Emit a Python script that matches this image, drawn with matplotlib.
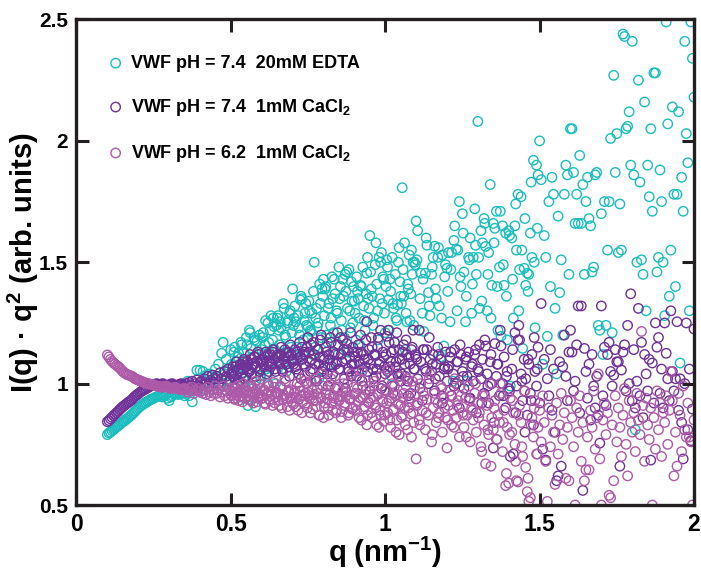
import matplotlib
matplotlib.use('Agg')
import matplotlib.pyplot as plt

# fonts: bold Arial-like everywhere, mathtext in the same face
plt.rcParams['font.family'] = ['Liberation Sans', 'DejaVu Sans']
plt.rcParams['font.weight'] = 'bold'
plt.rcParams['axes.labelweight'] = 'bold'
plt.rcParams['mathtext.fontset'] = 'custom'
plt.rcParams['mathtext.rm'] = 'Liberation Sans:bold'
plt.rcParams['mathtext.it'] = 'Liberation Sans:bold'
plt.rcParams['mathtext.bf'] = 'Liberation Sans:bold'

# q grid (nm^-1), shared by the three samples
q = [
    0.100, 0.105, 0.110, 0.115, 0.120, 0.125, 0.130, 0.135, 0.140, 0.145,
    0.150, 0.155, 0.160, 0.165, 0.170, 0.175, 0.180, 0.185, 0.190, 0.195,
    0.200, 0.205, 0.210, 0.215, 0.220, 0.225, 0.230, 0.235, 0.240, 0.245,
    0.250, 0.255, 0.260, 0.265, 0.270, 0.275, 0.280, 0.285, 0.290, 0.295,
    0.300, 0.305, 0.310, 0.315, 0.320, 0.325, 0.330, 0.335, 0.340, 0.345,
    0.350,
    0.355, 0.36, 0.365, 0.37, 0.375, 0.38, 0.385, 0.39, 0.395, 0.40,
    0.405, 0.41, 0.415, 0.42, 0.425, 0.43, 0.435, 0.44, 0.445, 0.45,
    0.455, 0.46, 0.465, 0.47, 0.475, 0.48, 0.485, 0.49, 0.495, 0.50,
    0.505, 0.51, 0.515, 0.52, 0.525, 0.53, 0.535, 0.54, 0.545, 0.55,
    0.555, 0.56, 0.565, 0.57, 0.575, 0.58, 0.585, 0.59, 0.595, 0.60,
    0.605, 0.61, 0.615, 0.62, 0.625, 0.63, 0.635, 0.64, 0.645, 0.65,
    0.655, 0.66, 0.665, 0.67, 0.675, 0.68, 0.685, 0.69, 0.695, 0.70,
    0.705, 0.71, 0.715, 0.72, 0.725, 0.73, 0.735, 0.74, 0.745, 0.75,
    0.755, 0.76, 0.765, 0.77, 0.775, 0.78, 0.785, 0.79, 0.795, 0.80,
    0.805, 0.81, 0.815, 0.82, 0.825, 0.83, 0.835, 0.84, 0.845, 0.85,
    0.855, 0.86, 0.865, 0.87, 0.875, 0.88, 0.885, 0.89, 0.895, 0.90,
    0.905, 0.91, 0.915, 0.92, 0.925, 0.93, 0.935, 0.94, 0.945, 0.95,
    0.955, 0.96, 0.965, 0.97, 0.975, 0.98, 0.985, 0.99, 0.995, 1.00,
    1.005, 1.01, 1.015, 1.02, 1.025, 1.03, 1.035, 1.04, 1.045, 1.05,
    1.055, 1.06, 1.065, 1.07, 1.075, 1.08, 1.085, 1.09, 1.095, 1.10,
    1.105, 1.11, 1.115, 1.12, 1.125, 1.13, 1.135, 1.14, 1.145, 1.15,
    1.155, 1.16, 1.165, 1.17, 1.175, 1.18, 1.185, 1.19, 1.195, 1.20,
    1.205, 1.21, 1.215, 1.22, 1.225, 1.23, 1.235, 1.24, 1.245, 1.25,
    1.255, 1.26, 1.265, 1.27, 1.275, 1.28, 1.285, 1.29, 1.295, 1.30,
    1.305, 1.31, 1.315, 1.32, 1.325, 1.33, 1.335, 1.34, 1.345, 1.35,
    1.355, 1.36, 1.365, 1.37, 1.375, 1.38, 1.385, 1.39, 1.395, 1.40,
    1.405, 1.41, 1.415, 1.42, 1.425, 1.43, 1.435, 1.44, 1.445, 1.45,
    1.455, 1.46, 1.465, 1.47, 1.475, 1.48, 1.485, 1.49, 1.495, 1.50,
    1.505, 1.51, 1.515, 1.52, 1.525, 1.53, 1.535, 1.54, 1.545, 1.55,
    1.555, 1.56, 1.565, 1.57, 1.575, 1.58, 1.585, 1.59, 1.595, 1.60,
    1.605, 1.61, 1.615, 1.62, 1.625, 1.63, 1.635, 1.64, 1.645, 1.65,
    1.655, 1.66, 1.665, 1.67, 1.675, 1.68, 1.685, 1.69, 1.695, 1.70,
    1.705, 1.71, 1.715, 1.72, 1.725, 1.73, 1.735, 1.74, 1.745, 1.75,
    1.755, 1.76, 1.765, 1.77, 1.775, 1.78, 1.785, 1.79, 1.795, 1.80,
    1.805, 1.81, 1.815, 1.82, 1.825, 1.83, 1.835, 1.84, 1.845, 1.85,
    1.855, 1.86, 1.865, 1.87, 1.875, 1.88, 1.885, 1.89, 1.895, 1.90,
    1.905, 1.91, 1.915, 1.92, 1.925, 1.93, 1.935, 1.94, 1.945, 1.95,
    1.955, 1.96, 1.965, 1.97, 1.975, 1.98, 1.985, 1.99, 1.995, 2.00,
]

# in-between q points of the densely sampled middle range
q_mid = [
    0.5025, 0.5075, 0.5125, 0.5175, 0.5225, 0.5275, 0.5325, 0.5375, 0.5425, 0.5475,
    0.5525, 0.5575, 0.5625, 0.5675, 0.5725, 0.5775, 0.5825, 0.5875, 0.5925, 0.5975,
    0.6025, 0.6075, 0.6125, 0.6175, 0.6225, 0.6275, 0.6325, 0.6375, 0.6425, 0.6475,
    0.6525, 0.6575, 0.6625, 0.6675, 0.6725, 0.6775, 0.6825, 0.6875, 0.6925, 0.6975,
    0.7025, 0.7075, 0.7125, 0.7175, 0.7225, 0.7275, 0.7325, 0.7375, 0.7425, 0.7475,
    0.7525, 0.7575, 0.7625, 0.7675, 0.7725, 0.7775, 0.7825, 0.7875, 0.7925, 0.7975,
    0.8025, 0.8075, 0.8125, 0.8175, 0.8225, 0.8275, 0.8325, 0.8375, 0.8425, 0.8475,
    0.8525, 0.8575, 0.8625, 0.8675, 0.8725, 0.8775, 0.8825, 0.8875, 0.8925, 0.8975,
    0.9025, 0.9075, 0.9125, 0.9175, 0.9225, 0.9275, 0.9325, 0.9375, 0.9425, 0.9475,
    0.9525, 0.9575, 0.9625, 0.9675, 0.9725, 0.9775, 0.9825, 0.9875, 0.9925, 0.9975,
    1.0025, 1.0075, 1.0125, 1.0175, 1.0225, 1.0275, 1.0325, 1.0375, 1.0425, 1.0475,
    1.0525, 1.0575, 1.0625, 1.0675, 1.0725, 1.0775, 1.0825, 1.0875, 1.0925, 1.0975,
    1.1025, 1.1125, 1.1225, 1.1325, 1.1425, 1.1525, 1.1625, 1.1725, 1.1825, 1.1925,
    1.2025, 1.2125, 1.2225, 1.2325, 1.2425, 1.2525, 1.2625, 1.2725, 1.2825, 1.2925,
    1.3025, 1.3125, 1.3225, 1.3325, 1.3425, 1.3525, 1.3625, 1.3725, 1.3825, 1.3925,
    1.4025, 1.4125, 1.4225, 1.4325, 1.4425, 1.4525, 1.4625, 1.4725, 1.4825, 1.4925,
]

# I(q)*q^2, pH 7.4, 20mM EDTA
edta_74 = [
    0.79, 0.797, 0.80, 0.806, 0.81, 0.817, 0.822, 0.826, 0.832, 0.838,
    0.843, 0.846, 0.852, 0.857, 0.862, 0.868, 0.873, 0.88, 0.886, 0.893,
    0.90, 0.905, 0.91, 0.914, 0.92, 0.922, 0.927, 0.93, 0.935, 0.937,
    0.94, 0.943, 0.946, 0.948, 0.95, 0.947, 0.945, 0.952, 0.955, 0.94,
    0.93, 0.945, 0.95, 0.957, 0.96, 0.962, 0.955, 0.958, 0.965, 0.96,
    0.95,
    0.96, 1.01, 0.95, 0.975, 0.925, 0.97, 0.985, 1.055, 0.99, 1.055,
    0.98, 1.05, 1.00, 1.035, 0.99, 1.04, 1.01, 1.035, 0.975, 1.06,
    1.02, 1.08, 0.99, 1.125, 1.17, 1.04, 1.10, 1.00, 1.06, 1.14,
    1.05, 1.13, 0.98, 1.09, 1.125, 1.07, 1.16, 1.02, 1.10, 1.19,
    0.91, 1.22, 1.145, 1.08, 1.19, 0.905, 1.175, 1.12, 1.03, 1.14,
    1.21, 1.16, 1.06, 1.25, 1.13, 1.28, 1.18, 1.235, 1.00, 1.27,
    1.22, 1.255, 1.12, 1.33, 1.20, 1.05, 1.26, 1.29, 1.15, 1.39,
    1.27, 1.255, 1.10, 1.23, 1.345, 1.35, 1.18, 1.29, 1.24, 1.235,
    1.30, 1.215, 1.12, 1.50, 1.27, 1.235, 1.02, 1.33, 1.39, 1.43,
    1.39, 1.20, 1.31, 1.08, 1.27, 1.35, 1.43, 1.16, 1.29, 1.48,
    1.40, 1.22, 1.36, 1.45, 1.46, 1.13, 1.30, 1.42, 1.25, 1.34,
    1.18, 1.38, 1.27, 1.405, 1.06, 1.32, 1.22, 1.455, 1.35, 1.61,
    1.39, 1.24, 1.12, 1.58, 1.30, 1.52, 1.50, 1.33, 1.43, 1.21,
    1.51, 1.345, 1.43, 1.03, 1.33, 1.17, 1.27, 1.325, 1.56, 1.36,
    1.807, 1.36, 1.14, 1.255, 1.39, 1.26, 1.55, 1.50, 1.50, 1.67,
    1.63, 1.22, 1.455, 1.29, 1.215, 1.455, 1.57, 1.375, 1.28, 1.45,
    1.52, 1.566, 1.35, 1.52, 1.32, 1.11, 1.53, 1.155, 1.49, 1.475,
    1.54, 1.255, 1.54, 1.01, 1.65, 1.555, 1.55, 1.75, 1.40, 1.70,
    1.46, 1.255, 1.01, 1.52, 1.60, 1.29, 1.52, 1.72, 1.45, 2.08,
    1.31, 1.63, 1.58, 1.68, 1.565, 1.30, 1.54, 1.82, 1.405, 1.66,
    1.64, 1.71, 1.22, 1.48, 1.195, 1.65, 1.405, 1.62, 1.18, 1.63,
    0.99, 1.60, 1.27, 1.65, 1.55, 1.78, 1.47, 1.77, 1.145, 1.475,
    1.405, 1.455, 1.45, 1.62, 1.52, 1.92, 1.23, 1.90, 1.86, 2.00,
    1.84, 1.08, 1.61, 1.52, 1.195, 1.75, 1.40, 1.85, 1.78, 1.31,
    1.04, 1.69, 1.375, 1.51, 1.20, 1.78, 1.90, 1.86, 1.45, 2.05,
    2.05, 1.87, 1.66, 1.78, 1.66, 1.94, 1.66, 1.82, 1.45, 1.75,
    1.85, 1.68, 1.65, 1.46, 1.48, 1.86, 1.87, 1.24, 1.22, 1.70,
    1.12, 1.75, 1.24, 1.55, 1.75, 2.01, 1.21, 2.27, 1.87, 2.03,
    1.54, 1.74, 1.55, 2.44, 2.43, 2.05, 2.06, 2.12, 1.90, 2.41,
    1.86, 0.81, 1.50, 2.25, 1.83, 1.51, 1.45, 2.16, 1.30, 1.90,
    1.77, 2.05, 1.71, 2.28, 2.28, 1.46, 1.52, 1.88, 1.75, 1.50,
    1.28, 2.49, 2.07, 1.36, 1.55, 2.14, 1.78, 1.40, 1.78, 2.12,
    1.085, 1.85, 1.71, 2.41, 2.03, 1.91, 1.30, 2.49, 2.34, 2.18,
]
edta_74_mid = [
    1.08, 0.99, 1.15, 1.04, 1.11, 0.97, 1.17, 1.06, 1.13, 1.01,
    1.16, 1.05, 1.21, 1.10, 0.98, 1.18, 1.07, 1.13, 1.20, 1.02,
    1.19, 1.12, 1.26, 1.03, 1.17, 1.22, 1.09, 1.27, 1.14, 1.24,
    1.28, 1.16, 1.23, 1.08, 1.31, 1.19, 1.25, 1.13, 1.30, 1.21,
    1.24, 1.32, 1.15, 1.28, 1.20, 1.36, 1.12, 1.26, 1.33, 1.19,
    1.34, 1.22, 1.29, 1.38, 1.15, 1.31, 1.25, 1.41, 1.19, 1.36,
    1.28, 1.40, 1.17, 1.33, 1.24, 1.44, 1.21, 1.37, 1.30, 1.12,
    1.35, 1.26, 1.43, 1.19, 1.38, 1.31, 1.47, 1.23, 1.34, 1.40,
    1.29, 1.44, 1.35, 1.16, 1.40, 1.48, 1.26, 1.37, 1.52, 1.31,
    1.46, 1.36, 1.27, 1.49, 1.41, 1.18, 1.35, 1.54, 1.44, 1.29,
    1.40, 1.48, 1.22, 1.38, 1.52, 1.31, 1.45, 1.26, 1.50, 1.42,
    1.33, 1.47, 1.58, 1.29, 1.41, 1.53, 1.37, 1.45, 1.24, 1.49,
    1.51, 1.35, 1.43, 1.60, 1.32, 1.48, 1.39, 1.56, 1.27, 1.44,
    1.38, 1.47, 1.59, 1.30, 1.44, 1.62, 1.36, 1.51, 1.41, 1.57,
    1.52, 1.34, 1.66, 1.45, 1.27, 1.58, 1.40, 1.71, 1.49, 1.36,
    1.61, 1.43, 1.74, 1.30, 1.55, 1.68, 1.38, 1.83, 1.50, 1.64,
]

# I(q)*q^2, pH 7.4, 1mM CaCl2
cacl_74 = [
    0.843, 0.848, 0.855, 0.861, 0.868, 0.874, 0.88, 0.886, 0.893, 0.899,
    0.905, 0.91, 0.915, 0.92, 0.925, 0.93, 0.935, 0.942, 0.948, 0.953,
    0.958, 0.963, 0.968, 0.972, 0.975, 0.979, 0.983, 0.986, 0.99, 0.993,
    0.995, 0.998, 1.0, 0.997, 0.995, 0.998, 1.0, 0.995, 0.99, 0.993,
    0.995, 0.998, 1.0, 0.995, 0.99, 0.993, 0.995, 0.998, 1.0, 0.995,
    0.99,
    1.0, 0.99, 1.005, 0.995, 1.01, 0.985, 1.0, 1.015, 0.99, 1.005,
    1.01, 0.995, 1.02, 1.0, 1.03, 0.99, 1.015, 1.035, 1.005, 1.02,
    1.03, 1.0, 1.045, 1.02, 0.99, 1.05, 1.03, 1.06, 1.01, 1.04,
    1.05, 1.03, 1.07, 1.0, 1.06, 1.08, 1.04, 1.09, 1.02, 1.07,
    1.08, 1.05, 1.10, 1.07, 1.11, 1.03, 1.09, 1.12, 1.06, 1.10,
    1.08, 1.11, 1.04, 1.12, 1.09, 1.07, 1.13, 1.10, 1.05, 1.11,
    1.09, 1.12, 1.06, 1.10, 1.14, 1.08, 1.11, 1.03, 1.12, 1.09,
    1.10, 1.07, 1.13, 1.04, 1.11, 1.15, 1.08, 1.12, 1.00, 1.19,
    1.09, 1.16, 1.06, 1.12, 1.02, 1.14, 1.08, 1.18, 1.05, 1.11,
    1.07, 1.13, 0.99, 1.10, 1.17, 1.04, 1.12, 1.08, 1.21, 1.06,
    1.19, 1.09, 1.14, 0.98, 1.165, 1.06, 1.11, 1.03, 1.15, 1.08,
    1.05, 1.13, 1.09, 1.20, 1.01, 1.12, 1.07, 1.255, 1.10, 0.97,
    1.19, 1.06, 1.12, 1.03, 1.15, 1.08, 1.22, 0.99, 1.11, 1.04,
    1.195, 1.22, 1.07, 1.13, 0.96, 1.17, 1.09, 1.04, 1.14, 1.01,
    1.10, 1.16, 1.03, 1.12, 0.95, 1.08, 1.14, 1.22, 1.06, 1.11,
    1.02, 1.22, 1.09, 0.93, 1.14, 1.06, 1.14, 1.00, 1.10, 1.05,
    1.12, 0.97, 1.08, 1.15, 1.03, 1.10, 0.92, 1.06, 1.13, 1.01,
    1.07, 1.11, 0.95, 1.04, 1.14, 1.00, 1.09, 0.90, 1.12, 1.05,
    0.98, 1.10, 1.03, 1.13, 0.94, 1.07, 1.01, 1.12, 0.88, 1.06,
    1.16, 1.02, 1.10, 0.96, 1.155, 1.04, 0.92, 1.09, 1.00, 0.735,
    1.165, 1.03, 1.08, 0.95, 1.155, 1.00, 1.11, 0.90, 1.05, 0.98,
    0.70, 1.06, 0.71, 1.21, 0.99, 1.18, 1.18, 1.04, 0.93, 1.10,
    1.02, 0.87, 1.08, 0.96, 1.12, 0.83, 1.05, 0.99, 1.15, 0.92,
    1.33, 0.73, 1.10, 0.685, 1.02, 0.95, 1.14, 0.89, 1.06, 0.80,
    0.60, 0.62, 1.09, 0.66, 1.07, 1.20, 1.03, 0.93, 1.13, 1.22,
    1.13, 0.97, 1.01, 1.16, 1.32, 0.88, 1.32, 0.56, 1.145, 1.05,
    0.94, 1.08, 0.85, 1.12, 0.99, 0.90, 1.03, 0.87, 0.755, 1.32,
    0.95, 1.15, 0.91, 1.12, 1.17, 1.05, 0.99, 1.035, 1.14, 1.09,
    1.09, 0.66, 1.056, 1.13, 1.16, 0.97, 1.24, 1.0, 1.37, 0.93,
    1.14, 0.90, 1.01, 1.31, 0.95, 1.17, 0.86, 1.12, 1.04, 0.97,
    1.10, 0.685, 1.085, 0.92, 1.25, 1.15, 1.19, 0.96, 1.06, 0.90,
    1.25, 1.125, 1.02, 0.93, 1.30, 1.05, 0.97, 1.02, 1.255, 0.89,
    1.02, 0.84, 0.69, 1.0, 1.25, 0.81, 1.06, 0.765, 0.895, 1.225,
]
cacl_74_mid = [
    1.04, 1.07, 1.02, 1.09, 1.05, 1.01, 1.08, 1.06, 1.10, 1.03,
    1.09, 1.06, 1.12, 1.04, 1.08, 1.11, 1.07, 1.13, 1.05, 1.09,
    1.10, 1.07, 1.13, 1.09, 1.05, 1.12, 1.08, 1.14, 1.06, 1.11,
    1.12, 1.08, 1.15, 1.05, 1.11, 1.09, 1.13, 1.07, 1.16, 1.10,
    1.08, 1.14, 1.06, 1.12, 1.17, 1.02, 1.10, 1.13, 1.07, 1.15,
    1.13, 1.05, 1.10, 1.17, 1.08, 1.01, 1.14, 1.11, 1.20, 1.06,
    1.10, 1.15, 1.04, 1.12, 1.19, 1.07, 1.13, 0.98, 1.09, 1.16,
    1.06, 1.12, 1.18, 1.02, 1.10, 1.14, 1.05, 1.21, 1.08, 1.13,
    1.11, 1.03, 1.16, 1.08, 1.13, 0.99, 1.10, 1.18, 1.05, 1.14,
    1.08, 1.15, 1.02, 1.12, 1.06, 1.19, 1.09, 0.98, 1.13, 1.07,
    1.12, 1.05, 1.17, 1.09, 0.99, 1.14, 1.07, 1.21, 1.03, 1.10,
    1.04, 1.13, 1.08, 1.18, 1.01, 1.11, 0.96, 1.15, 1.06, 1.12,
    1.10, 0.98, 1.14, 1.05, 1.19, 1.08, 1.02, 1.12, 0.95, 1.07,
    1.06, 1.13, 0.99, 1.09, 1.16, 1.03, 1.11, 0.94, 1.08, 1.14,
    1.05, 0.92, 1.18, 0.99, 1.12, 0.84, 1.08, 1.22, 0.95, 1.03,
    0.97, 1.14, 0.88, 1.24, 1.01, 0.80, 1.10, 0.93, 1.19, 1.06,
]

# I(q)*q^2, pH 6.2, 1mM CaCl2
cacl_62 = [
    1.118, 1.11, 1.10, 1.092, 1.085, 1.08, 1.075, 1.07, 1.065, 1.057,
    1.05, 1.045, 1.04, 1.037, 1.035, 1.032, 1.03, 1.025, 1.02, 1.017,
    1.015, 1.012, 1.01, 1.007, 1.005, 1.002, 1.0, 0.999, 0.998, 0.996,
    0.995, 0.992, 0.99, 0.989, 0.988, 0.986, 0.985, 0.988, 0.99, 0.986,
    0.982, 0.981, 0.98, 0.983, 0.985, 0.981, 0.978, 0.976, 0.975, 0.978,
    0.98,
    0.975, 0.965, 0.98, 0.97, 0.985, 0.96, 0.975, 0.97, 0.98, 0.965,
    0.97, 0.96, 0.975, 0.955, 0.985, 0.965, 0.95, 0.975, 0.96, 0.99,
    0.96, 0.975, 0.945, 0.965, 0.99, 0.95, 0.97, 0.94, 0.98, 0.955,
    0.965, 0.94, 0.985, 0.955, 0.93, 0.975, 0.95, 1.0, 0.94, 0.965,
    0.95, 0.99, 0.93, 0.965, 0.945, 1.01, 0.925, 0.96, 0.98, 0.94,
    0.97, 0.92, 0.955, 1.0, 0.935, 0.965, 0.91, 0.985, 0.945, 0.96,
    0.93, 0.99, 0.90, 0.955, 1.02, 0.94, 0.965, 0.89, 0.975, 0.945,
    0.96, 0.905, 1.0, 0.935, 0.97, 0.88, 0.95, 1.03, 0.92, 0.965,
    0.94, 1.01, 0.895, 0.955, 0.93, 0.98, 0.87, 0.945, 1.04, 0.86,
    0.92, 0.975, 0.90, 0.955, 1.02, 0.89, 0.94, 0.88, 0.985, 0.93,
    0.95, 0.885, 1.0, 0.92, 0.965, 0.87, 0.935, 1.04, 0.90, 0.955,
    0.91, 0.98, 0.86, 0.94, 1.05, 0.895, 0.955, 0.83, 0.925, 0.99,
    0.88, 0.945, 1.01, 0.90, 0.96, 0.82, 0.87, 0.935, 0.845, 0.975,
    0.92, 1.06, 0.85, 0.94, 0.89, 0.99, 0.80, 0.955, 0.79, 0.91,
    0.87, 0.96, 0.83, 1.02, 0.90, 0.94, 0.78, 0.88, 0.99, 0.69,
    0.92, 0.85, 1.0, 0.89, 0.95, 0.81, 0.935, 0.87, 1.04, 0.76,
    0.90, 0.96, 0.84, 0.92, 0.88, 0.99, 0.80, 0.94, 0.86, 0.735,
    0.91, 0.97, 0.83, 0.89, 1.02, 0.86, 0.93, 0.78, 0.95, 0.88,
    0.82, 0.94, 0.87, 0.99, 0.76, 0.90, 0.85, 0.96, 0.80, 0.92,
    0.88, 0.74, 0.95, 0.83, 0.67, 0.91, 0.79, 1.0, 0.86, 0.81,
    0.93, 0.77, 0.87, 0.84, 0.96, 0.72, 0.89, 0.58, 0.82, 0.59,
    0.94, 0.80, 0.88, 0.75, 0.60, 0.595, 0.91, 0.84, 0.70, 0.97,
    0.655, 0.555, 0.515, 0.53, 0.86, 0.78, 0.93, 0.71, 0.82, 0.89,
    0.76, 0.95, 0.84, 0.68, 0.515, 0.90, 0.74, 0.87, 0.80, 0.585,
    0.92, 0.71, 0.83, 0.96, 0.77, 0.88, 0.61, 0.82, 0.60, 0.93,
    0.86, 0.74, 0.50, 0.90, 0.80, 0.95, 0.68, 0.84, 0.60, 0.645,
    0.78, 0.645, 0.89, 0.82, 0.97, 0.73, 0.86, 1.04, 0.69, 0.50,
    0.85, 0.92, 0.79, 0.88, 0.54, 0.53, 0.83, 0.60, 0.95, 0.76,
    0.90, 0.82, 0.70, 0.87, 0.98, 0.75, 0.62, 0.93, 0.84, 0.80,
    0.88, 0.72, 0.96, 0.85, 0.79, 1.215, 0.91, 0.68, 0.94, 0.83,
    0.77, 0.90, 0.50, 0.86, 0.73, 0.97, 0.81, 0.92, 0.70, 0.88,
    0.84, 0.95, 0.75, 0.89, 1.05, 0.93, 0.62, 0.80, 0.66, 0.96,
    0.87, 0.72, 0.99, 0.81, 0.78, 0.92, 0.78, 0.76, 0.50, 0.85,
]
cacl_62_mid = [
    0.95, 0.98, 0.935, 0.965, 0.99, 0.945, 0.97, 0.925, 0.96, 0.98,
    0.97, 0.935, 0.96, 0.99, 0.92, 0.955, 0.975, 0.94, 1.0, 0.95,
    0.94, 0.975, 0.915, 0.96, 0.99, 0.93, 0.955, 1.005, 0.92, 0.965,
    0.96, 0.91, 0.985, 0.935, 0.95, 1.01, 0.905, 0.97, 0.94, 0.925,
    0.915, 0.97, 0.94, 0.89, 0.99, 0.95, 0.925, 1.01, 0.96, 0.90,
    0.95, 0.88, 0.975, 0.93, 1.02, 0.905, 0.96, 0.87, 0.94, 0.99,
    0.905, 0.96, 0.935, 0.87, 0.995, 0.92, 0.95, 1.03, 0.89, 0.945,
    0.935, 0.86, 0.97, 0.91, 0.95, 1.0, 0.88, 0.94, 0.895, 0.985,
    0.96, 0.89, 0.93, 1.02, 0.85, 0.945, 0.905, 0.975, 0.87, 0.92,
    0.94, 0.86, 0.99, 0.91, 0.83, 0.955, 0.89, 1.03, 0.925, 0.87,
    0.97, 0.88, 0.93, 0.82, 1.0, 0.895, 0.95, 0.85, 0.915, 1.03,
    0.86, 0.94, 0.90, 0.99, 0.81, 0.925, 0.875, 1.01, 0.84, 0.95,
    0.91, 0.83, 0.965, 0.88, 1.02, 0.79, 0.935, 0.86, 0.98, 0.90,
    0.85, 0.95, 0.82, 0.91, 0.99, 0.87, 0.78, 0.93, 0.89, 1.0,
    0.86, 0.72, 0.95, 0.81, 0.66, 0.90, 0.77, 1.0, 0.84, 0.63,
    0.79, 0.93, 0.68, 0.87, 0.74, 0.97, 0.61, 0.83, 0.90, 0.71,
]

labels = ['VWF pH = 7.4  20mM EDTA',
          'VWF pH = 7.4  1mM CaCl$_2$',
          'VWF pH = 6.2  1mM CaCl$_2$']
colors = ['#1abdbd', '#6f3197', '#ad5aa8']

xticks = [0, 0.5, 1, 1.5, 2]
xtick_labels = ['0', '0.5', '1', '1.5', '2']
yticks = [0.5, 1, 1.5, 2, 2.5]
ytick_labels = ['0.5', '1', '1.5', '2', '2.5']

series = [(edta_74, edta_74_mid), (cacl_74, cacl_74_mid), (cacl_62, cacl_62_mid)]
for ys, ys_mid in series:
    if len(ys) != len(q) or len(ys_mid) != len(q_mid):
        raise ValueError('length mismatch %d/%d, %d/%d'
                         % (len(ys), len(q), len(ys_mid), len(q_mid)))

fig = plt.figure(figsize=(7.01, 5.70), dpi=100)
ax = fig.add_axes([0.1091, 0.1140, 0.8809, 0.8518])

for (ys, ys_mid), c, lab in zip(series, colors, labels):
    ax.scatter(q + q_mid, ys + ys_mid, s=46, facecolors='none',
               edgecolors=c, linewidths=1.0, label=lab)

ax.set_xlim(0, 2)
ax.set_ylim(0.5, 2.5)
ax.set_xticks(xticks)
ax.set_xticklabels(xtick_labels, fontsize=16.5)
ax.set_yticks(yticks)
ax.set_yticklabels(ytick_labels, fontsize=15)
ax.tick_params(direction='in', length=9, width=2.2, top=True, right=True,
               pad=6, color='#231f20')
for sp in ax.spines.values():
    sp.set_linewidth(2.4)
    sp.set_color('#231f20')

ax.set_xlabel('q (nm$^{-1}$)', fontsize=21)
ax.set_ylabel('I(q) · q$^2$ (arb. units)', fontsize=21)
ax.xaxis.set_label_coords(0.5, -0.062)
ax.yaxis.set_label_coords(-0.058, 0.5)

ax.legend(loc='upper left', bbox_to_anchor=(0.04, 0.942), frameon=False,
          fontsize=13, handlelength=0.8, handletextpad=0.45,
          labelspacing=1.38, scatterpoints=1, borderaxespad=0)

fig.savefig('out.png', dpi=100)
